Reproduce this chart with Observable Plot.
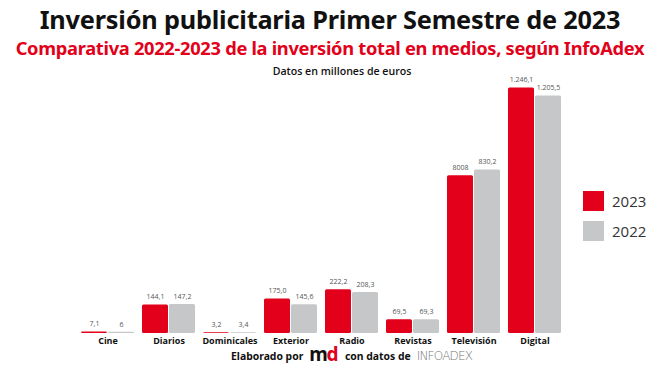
<!DOCTYPE html>
<html>
<head>
<meta charset="utf-8">
<script src="https://cdn.jsdelivr.net/npm/d3@7"></script>
<script src="https://cdn.jsdelivr.net/npm/@observablehq/plot@0.6"></script>
<style>
  html, body { margin: 0; padding: 0; background: #fff; }
  #wrap { position: relative; width: 660px; height: 371px; overflow: hidden; font-family: "Open Sans", sans-serif; }
  #chart { position: absolute; left: 0; top: 0; }
  .abs { position: absolute; white-space: nowrap; }
  #title { left: 0; width: 660px; top: 2px; text-align: center; font-family: "Noto Sans", sans-serif; font-weight: 700; font-size: 25.3px; color: #111; letter-spacing: -0.2px; }
  #subtitle { left: 0; width: 660px; top: 35px; text-align: center; font-family: "Noto Sans", sans-serif; font-weight: 700; font-size: 18.3px; color: #e2001a; letter-spacing: -0.3px; }
  #note { left: 0; width: 684px; top: 64px; text-align: center; font-family: "Open Sans", sans-serif; font-weight: 600; font-size: 10.6px; color: #111; }
  #footer { left: 231px; top: 348px; height: 11px; line-height: 11px; font-family: "Noto Sans", sans-serif; font-weight: 700; font-size: 10.4px; color: #111; display: flex; align-items: baseline; }
  #footer .md { font-size: 19px; line-height: 11px; font-weight: 700; letter-spacing: -1.5px; margin: 0 8px 0 6px; font-family: "Noto Sans", sans-serif; position: relative; top: 1px; }
  #footer .infoadex { font-family: "DejaVu Sans", sans-serif; font-weight: 200; font-size: 12px; color: #777; margin-left: 6px; letter-spacing: -0.8px; }
</style>
</head>
<body>
<div id="wrap">
  <div id="chart"></div>
  <div class="abs" id="title">Inversión publicitaria Primer Semestre de 2023</div>
  <div class="abs" id="subtitle">Comparativa 2022-2023 de la inversión total en medios, según InfoAdex</div>
  <div class="abs" id="note">Datos en millones de euros</div>
  <div class="abs" id="footer">Elaborado por <span class="md"><span style="color:#111">m</span><span style="color:#e2001a">d</span></span> con datos de <span class="infoadex">INFOADEX</span></div>
</div>
<script>
const categories = ["Cine", "Diarios", "Dominicales", "Exterior", "Radio", "Revistas", "Televisión", "Digital"];
const years = ["2023", "2022"];
const values2023 = [7.1, 144.1, 3.2, 175.0, 222.2, 69.5, 800.8, 1246.1];
const values2022 = [6, 147.2, 3.4, 145.6, 208.3, 69.3, 830.2, 1205.5];
const labels2023 = ["7,1", "144,1", "3,2", "175,0", "222,2", "69,5", "8008", "1.246,1"];
const labels2022 = ["6", "147,2", "3,4", "145,6", "208,3", "69,3", "830,2", "1.205,5"];
const colors = ["#e2001a", "#c6c7c8"];

const rows = [];
categories.forEach((c, i) => {
  rows.push({category: c, year: "2023", value: values2023[i], label: labels2023[i]});
  rows.push({category: c, year: "2022", value: values2022[i], label: labels2022[i]});
});
const cats = categories.map(c => ({category: c}));

const chart = Plot.plot({
  width: 660,
  height: 371,
  marginLeft: 80,
  marginRight: 98,
  marginTop: 77,
  marginBottom: 38,
  style: {fontFamily: "Open Sans, sans-serif", background: "transparent"},
  fx: {domain: categories, paddingInner: 0.1, paddingOuter: 0, axis: null},
  x: {domain: years, padding: 0.03, axis: null},
  y: {domain: [0, 1300], axis: null},
  color: {domain: years, range: colors},
  marks: [
    Plot.barY(rows, {fx: "category", x: "year", y: "value", fill: "year", rx: 1.5}),
    Plot.text(rows, {fx: "category", x: "year", y: "value", text: "label", dy: -8, fontSize: 7, fill: "#555"}),
    Plot.text(cats, {fx: "category", text: "category", frameAnchor: "bottom", dy: 10, fontSize: 9, fontWeight: "bold", fill: "#111"})
  ]
});
document.getElementById("chart").appendChild(chart);

// legend drawn from the same color scale
const legend = d3.select("#wrap").append("svg")
  .attr("width", 100).attr("height", 70)
  .style("position", "absolute").style("left", "580px").style("top", "188px");
years.forEach((y, i) => {
  const g = legend.append("g").attr("transform", `translate(3,${3 + i * 30})`);
  g.append("rect").attr("width", 21).attr("height", 20).attr("fill", chart.scale("color").apply(y));
  g.append("text").attr("x", 29).attr("y", 16).attr("font-family", "Open Sans, sans-serif")
    .attr("font-size", 15).attr("fill", "#333").text(y);
});
</script>
</body>
</html>
